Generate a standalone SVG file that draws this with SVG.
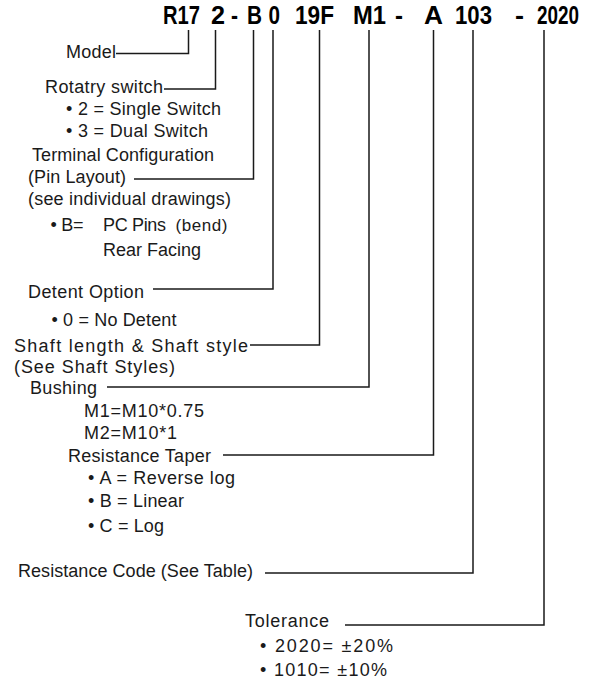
<svg xmlns="http://www.w3.org/2000/svg" width="594" height="680" viewBox="0 0 594 680">
<style>
.t{font-family:"Liberation Sans",Arial,sans-serif;font-size:18px;fill:#1a1a1a}
.s{font-family:"Liberation Sans",Arial,sans-serif;font-size:17px;fill:#1a1a1a}
.h{font-family:"Liberation Sans",Arial,sans-serif;font-size:25px;font-weight:bold;fill:#000}
.c{fill:none;stroke:#1a1a1a;stroke-width:1.5}
</style>
<rect width="594" height="680" fill="#fff"/>
<g id="part-number">
<text class="h" x="163" y="24" textLength="37" lengthAdjust="spacingAndGlyphs">R17</text>
<text class="h" x="211" y="24" textLength="14" lengthAdjust="spacingAndGlyphs">2</text>
<text class="h" x="231" y="24" textLength="7" lengthAdjust="spacingAndGlyphs">-</text>
<text class="h" x="247" y="24" textLength="15" lengthAdjust="spacingAndGlyphs">B</text>
<text class="h" x="268.5" y="24" textLength="11.5" lengthAdjust="spacingAndGlyphs">0</text>
<text class="h" x="295" y="24" textLength="39" lengthAdjust="spacingAndGlyphs">19F</text>
<text class="h" x="353" y="24" textLength="33" lengthAdjust="spacingAndGlyphs">M1</text>
<text class="h" x="395" y="24" textLength="8" lengthAdjust="spacingAndGlyphs">-</text>
<text class="h" x="424" y="24" textLength="19" lengthAdjust="spacingAndGlyphs">A</text>
<text class="h" x="455" y="24" textLength="37" lengthAdjust="spacingAndGlyphs">103</text>
<text class="h" x="515" y="24" textLength="9" lengthAdjust="spacingAndGlyphs">-</text>
<text class="h" x="537" y="24" textLength="42" lengthAdjust="spacingAndGlyphs">2020</text>
</g>
<g id="connectors">
<path class="c" d="M116,53.5H188.5V30"/>
<path class="c" d="M164,89H215.5V30"/>
<path class="c" d="M134,179H253.5V30"/>
<path class="c" d="M153,289H273V30"/>
<path class="c" d="M250,345H319.5V30"/>
<path class="c" d="M107,387H369V30"/>
<path class="c" d="M223,455H433.5V30"/>
<path class="c" d="M265,573H473V30"/>
<path class="c" d="M345,625H544V30"/>
</g>
<g id="model">
<text class="t" x="66" y="58" textLength="50">Model</text>
</g>
<g id="rotary-switch">
<text class="t" x="45" y="93" textLength="118">Rotatry switch</text>
<text class="t" x="66" y="115" textLength="155">• 2 = Single Switch</text>
<text class="t" x="66" y="137" textLength="142">• 3 = Dual Switch</text>
</g>
<g id="terminal-configuration">
<text class="t" x="32" y="161" textLength="182">Terminal Configuration</text>
<text class="t" x="28" y="183" textLength="98">(Pin Layout)</text>
<text class="t" x="28" y="205" textLength="203">(see individual drawings)</text>
<text class="t" x="50.5" y="231" textLength="33">• B=</text>
<text class="t" x="103" y="231" textLength="63">PC Pins</text>
<text class="s" x="175.5" y="231" textLength="52">(bend)</text>
<text class="t" x="103" y="256" textLength="98">Rear Facing</text>
</g>
<g id="detent-option">
<text class="t" x="28" y="298" textLength="116">Detent Option</text>
<text class="t" x="51.5" y="326" textLength="125">• 0 = No Detent</text>
</g>
<g id="shaft">
<text class="t" x="14" y="352" textLength="234">Shaft length &amp; Shaft style</text>
<text class="t" x="14" y="373" textLength="161">(See Shaft Styles)</text>
</g>
<g id="bushing">
<text class="t" x="30" y="394" textLength="67">Bushing</text>
<text class="t" x="84" y="417" textLength="120">M1=M10*0.75</text>
<text class="t" x="84" y="439" textLength="93">M2=M10*1</text>
</g>
<g id="resistance-taper">
<text class="t" x="68" y="462" textLength="143">Resistance Taper</text>
<text class="t" x="88" y="484" textLength="147">• A = Reverse log</text>
<text class="t" x="88" y="507" textLength="96">• B = Linear</text>
<text class="t" x="88" y="532" textLength="76">• C = Log</text>
</g>
<g id="resistance-code">
<text class="t" x="18" y="577" textLength="235">Resistance Code (See Table)</text>
</g>
<g id="tolerance">
<text class="t" x="245" y="627" textLength="84">Tolerance</text>
<text class="t" x="260" y="652" textLength="133">• 2020= ±20%</text>
<text class="t" x="260" y="676" textLength="127">• 1010= ±10%</text>
</g>
</svg>
